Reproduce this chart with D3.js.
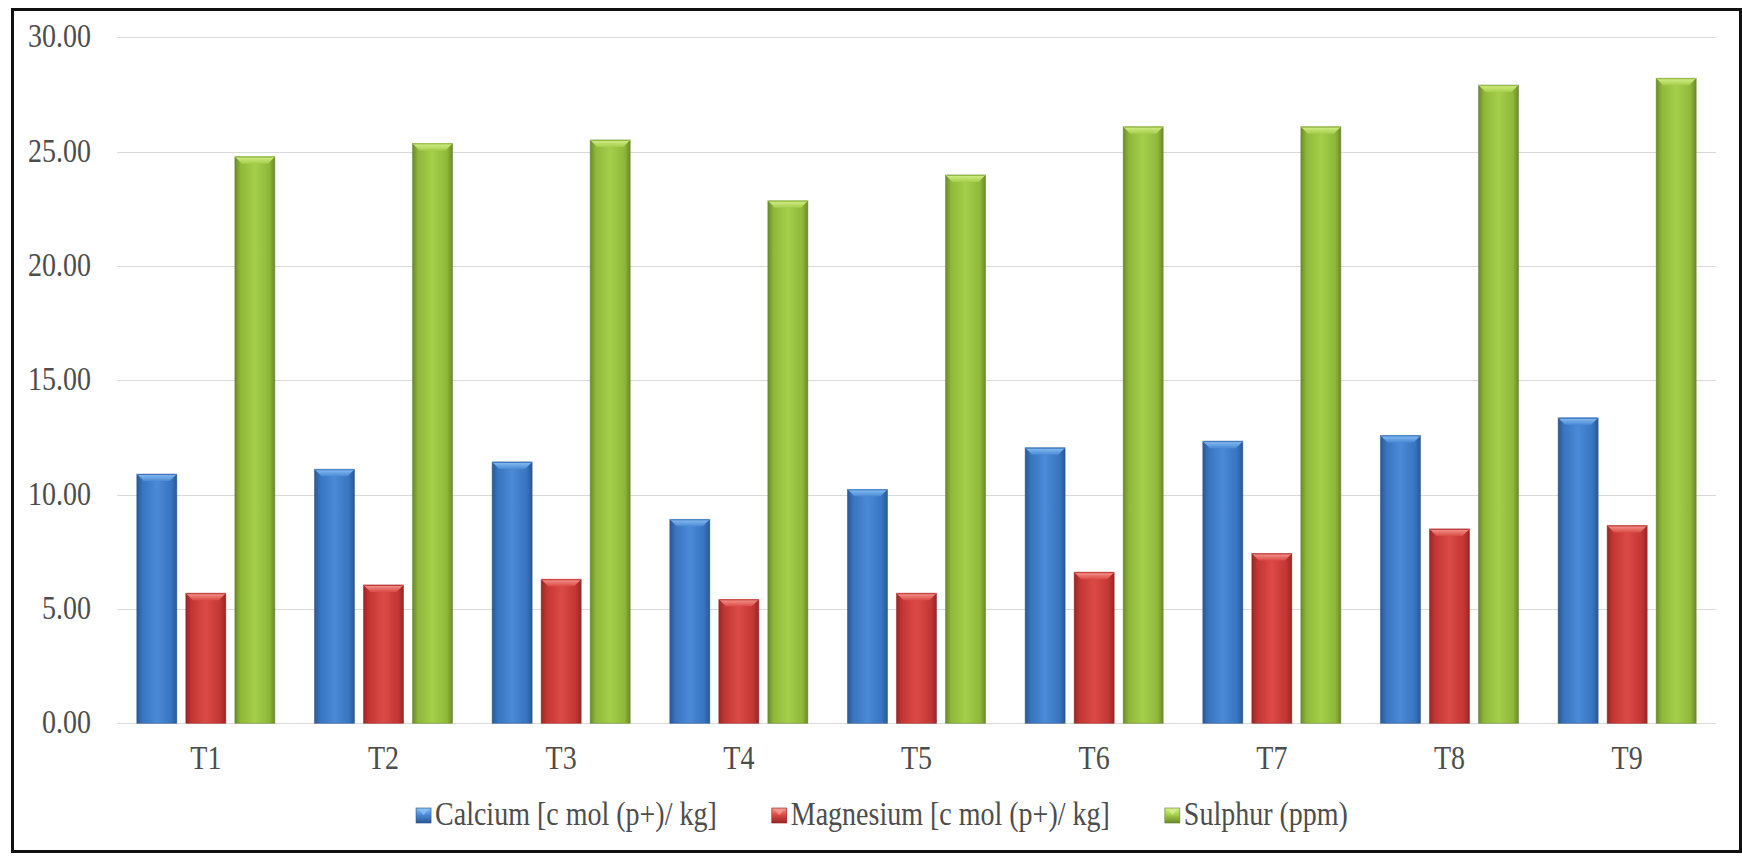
<!DOCTYPE html>
<html>
<head>
<meta charset="utf-8">
<script src="https://cdn.jsdelivr.net/npm/d3@7"></script>
<style>
  html, body { margin: 0; padding: 0; background: #ffffff; }
  svg { display: block; }
  svg text { font-family: "Liberation Serif", "DejaVu Serif", serif; fill: #4d4d4d; }
</style>
</head>
<body>
<svg id="chart" width="1742" height="859"></svg>
<script>
// Treatments on the x axis
const categories = ["T1", "T2", "T3", "T4", "T5", "T6", "T7", "T8", "T9"];

// Series names
const seriesNames = ["Calcium [c mol (p+)/ kg]", "Magnesium [c mol (p+)/ kg]", "Sulphur (ppm)"];

// Series values per treatment
const calcium   = [10.90, 11.11, 11.43, 8.92, 10.23, 12.05, 12.34, 12.59, 13.36];
const magnesium = [5.69, 6.05, 6.30, 5.42, 5.69, 6.61, 7.43, 8.50, 8.65];
const sulphur   = [24.78, 25.36, 25.51, 22.85, 23.98, 26.09, 26.09, 27.91, 28.21];

// Y axis ticks
const yTicks = [0, 5, 10, 15, 20, 25, 30];

const seriesValues = [calcium, magnesium, sulphur];

// Fill palettes: edge, mid, centre, bevel highlight
const palettes = [
  { edge: "#2a5894", mid: "#3874c0", center: "#4a8ad6", hi: "#8cc0f2", line: "#25508a" },
  { edge: "#9a2624", mid: "#c23634", center: "#dc4a46", hi: "#f49a92", line: "#8e2220" },
  { edge: "#6a8a2a", mid: "#8fb83a", center: "#a4cf4a", hi: "#d6ee8c", line: "#61802a" }
];

const svg = d3.select("#chart");
const W = 1742, H = 859;
const FONT_FAMILY = "'Liberation Serif', 'DejaVu Serif', serif";

const plot = { left: 117, right: 1716, top: 37.3, bottom: 723.3 };

const x0 = d3.scaleBand()
  .domain(categories)
  .range([plot.left, plot.right])
  .paddingInner(0.223)
  .paddingOuter(0.1115);

const x1 = d3.scaleBand()
  .domain(d3.range(seriesNames.length))
  .range([0, x0.bandwidth()])
  .paddingInner(0.184);

const y = d3.scaleLinear()
  .domain([0, 30])
  .range([plot.bottom, plot.top]);

const VSTRETCH = 1.17;   // text is drawn slightly tall
const FONT = 28;

// Gradients
const defs = svg.append("defs");
palettes.forEach((p, i) => {
  const g = defs.append("linearGradient")
    .attr("id", "barGrad" + i)
    .attr("x1", "0%").attr("x2", "100%").attr("y1", "0%").attr("y2", "0%");
  [[0, p.edge], [0.14, p.mid], [0.5, p.center], [0.86, p.mid], [1, p.edge]].forEach(([o, c]) => {
    g.append("stop").attr("offset", (o * 100) + "%").attr("stop-color", c);
  });
  const b = defs.append("linearGradient")
    .attr("id", "bevelGrad" + i)
    .attr("x1", "0%").attr("x2", "0%").attr("y1", "0%").attr("y2", "100%");
  b.append("stop").attr("offset", "0%").attr("stop-color", p.hi);
  b.append("stop").attr("offset", "100%").attr("stop-color", p.center);

  const s = defs.append("linearGradient")
    .attr("id", "swatchGrad" + i)
    .attr("x1", "0%").attr("x2", "0%").attr("y1", "0%").attr("y2", "100%");
  s.append("stop").attr("offset", "0%").attr("stop-color", p.hi);
  s.append("stop").attr("offset", "45%").attr("stop-color", p.center);
  s.append("stop").attr("offset", "100%").attr("stop-color", p.edge);
});

// Background
svg.append("rect").attr("x", 0).attr("y", 0).attr("width", W).attr("height", H).attr("fill", "#ffffff");

// Gridlines
svg.append("g")
  .selectAll("line")
  .data(yTicks)
  .join("line")
  .attr("x1", plot.left)
  .attr("x2", plot.right)
  .attr("y1", d => Math.round(y(d)) + 0.5)
  .attr("y2", d => Math.round(y(d)) + 0.5)
  .attr("stroke", "#d9d9d9")
  .attr("stroke-width", 1.2);

// Y axis labels
const fmt = d3.format(".2f");
svg.append("g")
  .selectAll("text")
  .data(yTicks)
  .join("text")
  .attr("transform", d => `translate(91,${y(d) + 10}) scale(1,${VSTRETCH})`)
  .attr("text-anchor", "end")
  .attr("font-family", FONT_FAMILY)
  .attr("font-size", FONT)
  .text(d => fmt(d));

// X axis labels
svg.append("g")
  .selectAll("text")
  .data(categories)
  .join("text")
  .attr("transform", d => `translate(${x0(d) + x0.bandwidth() / 2},769) scale(1,${VSTRETCH})`)
  .attr("text-anchor", "middle")
  .attr("font-family", FONT_FAMILY)
  .attr("font-size", FONT)
  .text(d => d);

// Bars
const rows = [];
categories.forEach((c, ci) => {
  seriesValues.forEach((vals, si) => {
    rows.push({ cat: c, s: si, v: vals[ci] });
  });
});

const barG = svg.append("g");
const bars = barG.selectAll("g.bar")
  .data(rows)
  .join("g")
  .attr("class", "bar");

bars.append("rect")
  .attr("x", d => x0(d.cat) + x1(d.s))
  .attr("y", d => y(d.v))
  .attr("width", x1.bandwidth())
  .attr("height", d => y(0) - y(d.v))
  .attr("fill", d => `url(#barGrad${d.s})`)
  .attr("stroke", d => palettes[d.s].line)
  .attr("stroke-width", 0.8)
  .attr("stroke-opacity", 0.6);

// Top bevel
const bev = 7;
bars.append("path")
  .attr("d", d => {
    const xl = x0(d.cat) + x1(d.s), xr = xl + x1.bandwidth(), yt = y(d.v);
    return `M${xl},${yt} L${xr},${yt} L${xr - bev},${yt + bev} L${xl + bev},${yt + bev} Z`;
  })
  .attr("fill", d => `url(#bevelGrad${d.s})`);

bars.append("line")
  .attr("x1", d => x0(d.cat) + x1(d.s) + 1)
  .attr("x2", d => x0(d.cat) + x1(d.s) + x1.bandwidth() - 1)
  .attr("y1", d => y(d.v) + 0.5)
  .attr("y2", d => y(d.v) + 0.5)
  .attr("stroke", d => palettes[d.s].mid)
  .attr("stroke-width", 1);

// Legend
const legend = svg.append("g");
const items = legend.selectAll("g.item")
  .data(seriesNames)
  .join("g")
  .attr("class", "item");

items.append("rect")
  .attr("width", 15).attr("height", 15)
  .attr("y", 808)
  .attr("fill", (d, i) => `url(#swatchGrad${i})`)
  .attr("stroke", (d, i) => palettes[i].line)
  .attr("stroke-width", 0.6);

items.append("path")
  .attr("d", "M2,809 L13,809 L7.5,815 Z")
  .attr("fill", (d, i) => palettes[i].hi)
  .attr("opacity", 0.8);

const labels = items.append("text")
  .attr("font-family", FONT_FAMILY)
  .attr("font-size", FONT)
  .text(d => d);

// Lay out legend entries in one centred row
const widths = [];
labels.each(function () { widths.push(this.getComputedTextLength()); });
const swatch = 15, gapSwatch = 4, gapItem = 55;
const total = d3.sum(widths) + seriesNames.length * (swatch + gapSwatch) + gapItem * (seriesNames.length - 1);
let cursor = 882 - total / 2;
items.each(function (d, i) {
  const g = d3.select(this);
  g.attr("transform", `translate(${cursor},0)`);
  g.select("text").attr("transform", `translate(${swatch + gapSwatch},825) scale(1,${VSTRETCH})`);
  cursor += swatch + gapSwatch + widths[i] + gapItem;
});

// Outer frame
svg.append("rect")
  .attr("x", 12.5).attr("y", 9.5)
  .attr("width", 1728).attr("height", 842)
  .attr("fill", "none")
  .attr("stroke", "#111111")
  .attr("stroke-width", 3);
</script>
</body>
</html>
